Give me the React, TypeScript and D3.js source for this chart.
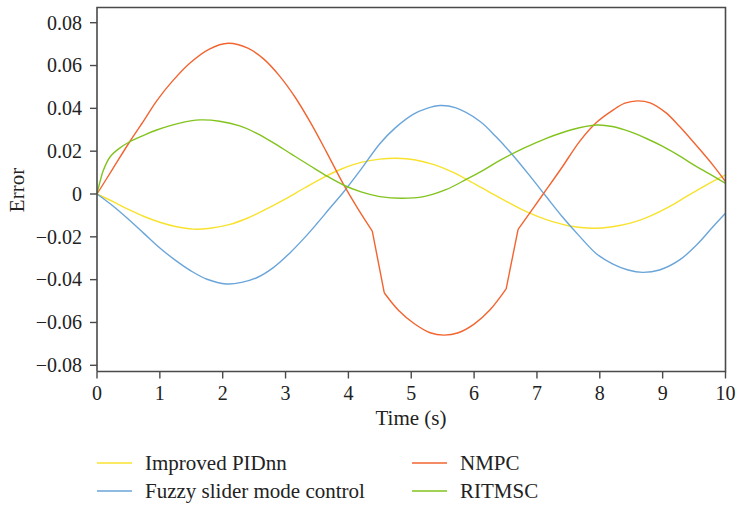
import React from "react";
import * as d3 from "d3";

const xTicks = [0, 1, 2, 3, 4, 5, 6, 7, 8, 9, 10];
const yTicks = [-0.08, -0.06, -0.04, -0.02, 0, 0.02, 0.04, 0.06, 0.08];
const yTickLabels = ["\u22120.08", "\u22120.06", "\u22120.04", "\u22120.02", "0", "0.02", "0.04", "0.06", "0.08"];

const pidT = [0, 0.25, 0.5, 0.75, 1, 1.25, 1.53, 1.8, 2.1, 2.4, 2.7, 3, 3.3, 3.6, 3.9, 4.2, 4.5, 4.77, 5.05, 5.35, 5.65, 5.95, 6.25, 6.55, 6.85, 7.15, 7.5, 7.87, 8.2, 8.5, 8.8, 9.1, 9.4, 9.7, 10];
const pidV = [0, -0.0035, -0.0072, -0.0105, -0.0132, -0.0152, -0.0164, -0.016, -0.0143, -0.0112, -0.007, -0.0023, 0.0028, 0.0077, 0.0118, 0.0148, 0.0163, 0.0167, 0.016, 0.0138, 0.0103, 0.0057, 0.0008, -0.004, -0.0085, -0.012, -0.0148, -0.016, -0.0153, -0.0135, -0.0103, -0.006, -0.0008, 0.0043, 0.0089];

const fuzzyT = [0, 0.25, 0.5, 0.75, 1, 1.25, 1.5, 1.75, 2.06, 2.3, 2.55, 2.8, 3.07, 3.3, 3.5, 3.7, 3.92, 4.2, 4.5, 4.75, 5.03, 5.25, 5.46, 5.7, 6.09, 6.35, 6.62, 6.9, 7.15, 7.4, 7.68, 7.95, 8.21, 8.45, 8.68, 8.95, 9.27, 9.55, 9.8, 10];
const fuzzyV = [0, -0.0055, -0.0118, -0.0185, -0.0252, -0.031, -0.036, -0.0398, -0.042, -0.0413, -0.039, -0.0345, -0.0275, -0.0205, -0.0138, -0.0068, 0.0008, 0.0115, 0.0235, 0.031, 0.0372, 0.04, 0.0413, 0.0403, 0.034, 0.0267, 0.018, 0.008, -0.0013, -0.0105, -0.0198, -0.028, -0.0327, -0.0355, -0.0366, -0.0355, -0.0308, -0.0235, -0.0153, -0.009];

const nmpcT = [0, 0.25, 0.52, 0.75, 0.95, 1.2, 1.48, 1.78, 2.09, 2.4, 2.65, 2.9, 3.15, 3.4, 3.65, 3.92, 4.15, 4.38, 4.57, 4.8, 5.05, 5.3, 5.52, 5.75, 6.0, 6.25, 6.51, 6.7, 7.1, 7.4, 7.68, 7.95, 8.21, 8.4, 8.6, 8.8, 9.05, 9.27, 9.55, 9.8, 10];
const nmpcV = [0, 0.0117, 0.0244, 0.0345, 0.0435, 0.0527, 0.0612, 0.0676, 0.0704, 0.0681, 0.0631, 0.0553, 0.0453, 0.0332, 0.0197, 0.0046, -0.0068, -0.0173, -0.0461, -0.0544, -0.0606, -0.0648, -0.0659, -0.0648, -0.0608, -0.0542, -0.0443, -0.0165, 0, 0.0125, 0.0246, 0.0335, 0.0392, 0.0424, 0.0435, 0.0426, 0.038, 0.0315, 0.0222, 0.0135, 0.0058];
// indices where the NMPC curve has sharp corners (t = 4.38, 4.57, 6.51, 6.7)
const nmpcKinks = [17, 18, 26, 27];

const ritT = [0, 0.05, 0.1, 0.21, 0.35, 0.52, 0.75, 0.95, 1.3, 1.64, 1.95, 2.27, 2.55, 2.8, 3.1, 3.39, 3.65, 3.92, 4.2, 4.5, 4.85, 5.2, 5.55, 5.88, 6.15, 6.41, 6.8, 7.15, 7.55, 7.95, 8.2, 8.48, 8.75, 9.01, 9.3, 9.54, 9.8, 10];
const ritV = [0, 0.006, 0.011, 0.0174, 0.0212, 0.0244, 0.0275, 0.0299, 0.033, 0.0346, 0.034, 0.0318, 0.0282, 0.024, 0.0185, 0.0132, 0.0085, 0.0042, 0.001, -0.0012, -0.002, -0.0012, 0.002, 0.0069, 0.0112, 0.0157, 0.0215, 0.026, 0.03, 0.0322, 0.0315, 0.0291, 0.0258, 0.0221, 0.0172, 0.0128, 0.0085, 0.005];

const seriesNames = ["Improved PIDnn", "Fuzzy slider mode control", "NMPC", "RITMSC"];
const seriesColors = ["#f8e22e", "#6aa5da", "#f26430", "#82c31e"];

const series = [
  { name: seriesNames[0], t: pidT, v: pidV, color: seriesColors[0], kinks: [] as number[] },
  { name: seriesNames[1], t: fuzzyT, v: fuzzyV, color: seriesColors[1], kinks: [] as number[] },
  { name: seriesNames[2], t: nmpcT, v: nmpcV, color: seriesColors[2], kinks: nmpcKinks },
  { name: seriesNames[3], t: ritT, v: ritV, color: seriesColors[3], kinks: [] as number[] },
];

export default function App() {
  const W = 738, H = 506;
  const left = 97, right = 725.5, top = 7.5, bottom = 371.5;
  const x = d3.scaleLinear().domain([0, 10]).range([left, right]);
  const y = d3.scaleLinear().domain([-0.08, 0.08]).range([365.3, 22.7]);
  const axisColor = "#4a4a4a";
  const font = "'Liberation Serif', 'Times New Roman', serif";
  const fs = 20;
  const fsL = 21;

  const makePath = (t: number[], v: number[], kinks: number[]) => {
    const pts = t.map((tt, i) => [x(tt), y(v[i])] as [number, number]);
    const breaks = [0, ...kinks, pts.length - 1];
    let d = "";
    for (let k = 0; k < breaks.length - 1; k++) {
      const seg = pts.slice(breaks[k], breaks[k + 1] + 1);
      const curve = seg.length <= 2 ? d3.curveLinear : d3.curveCatmullRom.alpha(0.5);
      d += d3.line().curve(curve)(seg) || "";
    }
    return d;
  };

  const legendPos = [
    { lx: 97, ty: 463 },
    { lx: 97, ty: 491 },
    { lx: 412, ty: 463 },
    { lx: 412, ty: 491 },
  ];

  return (
    <svg width={W} height={H} style={{ position: "absolute", left: 0, top: 0, background: "#fff" }} fontFamily={font}>
      <rect x={0} y={0} width={W} height={H} fill="#fff" />
      {series.map((s) => (
        <path key={s.name} d={makePath(s.t, s.v, s.kinks)} fill="none" stroke={s.color} strokeWidth={1.4} strokeLinejoin="round" />
      ))}
      <path d={`M${left},${bottom}V${top}H${right}V${bottom}H${left}`} fill="none" stroke={axisColor} strokeWidth={1.6} />
      {yTicks.map((t, i) => (
        <g key={t}>
          <line x1={left - 7} x2={left} y1={y(t)} y2={y(t)} stroke={axisColor} strokeWidth={1.4} />
          <text x={left - 15} y={y(t)} dy="0.34em" textAnchor="end" fontSize={fs} fill="#222">
            {yTickLabels[i]}
          </text>
        </g>
      ))}
      {xTicks.map((t) => (
        <g key={t}>
          <line x1={x(t)} x2={x(t)} y1={bottom} y2={bottom + 7} stroke={axisColor} strokeWidth={1.4} />
          <text x={x(t)} y={400} textAnchor="middle" fontSize={fs} fill="#222">
            {t}
          </text>
        </g>
      ))}
      <text x={411} y={425} textAnchor="middle" fontSize={fsL} fill="#222">Time (s)</text>
      <text transform="translate(24,190) rotate(-90)" textAnchor="middle" fontSize={fsL} fill="#222">Error</text>
      {series.map((s, i) => (
        <g key={s.name}>
          <line x1={legendPos[i].lx} x2={legendPos[i].lx + 35} y1={legendPos[i].ty} y2={legendPos[i].ty} stroke={s.color} strokeWidth={1.4} />
          <text x={legendPos[i].lx + 48} y={legendPos[i].ty} dy="0.33em" fontSize={fsL} fill="#222">{s.name}</text>
        </g>
      ))}
    </svg>
  );
}
